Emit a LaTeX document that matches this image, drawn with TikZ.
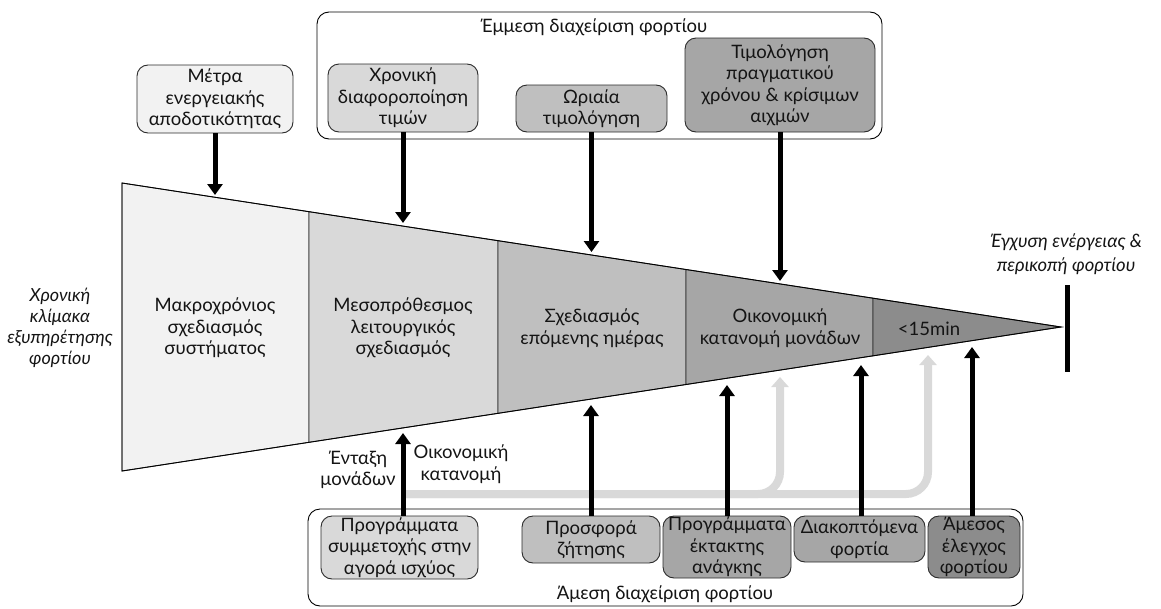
\documentclass[tikz,border=0pt]{standalone}
\usepackage{fontspec}
\setmainfont{Lato}
\usetikzlibrary{arrows.meta}

\definecolor{shadeA}{HTML}{F2F2F2}
\definecolor{shadeB}{HTML}{D9D9D9}
\definecolor{shadeC}{HTML}{BFBFBF}
\definecolor{shadeD}{HTML}{A6A6A6}
\definecolor{shadeE}{HTML}{8C8C8C}
\definecolor{flowgrey}{HTML}{D9D9D9}
\definecolor{txt}{HTML}{141414}
\definecolor{edge}{HTML}{2B2B2B}

\begin{document}
\begin{tikzpicture}[x=1pt,y=-1pt,
  lbl/.style={font=\fontsize{18.5}{21.5}\selectfont, align=center, text=txt, inner sep=0pt},
  note/.style={lbl, font=\fontsize{18}{21}\selectfont\itshape},
  box/.style={lbl, draw=edge, line width=0.9pt, rounded corners=11pt},
  frame/.style={draw=black, line width=0.9pt, rounded corners=12pt},
  segment/.style={draw=edge, line width=0.8pt},
  push/.style={line width=5pt, -{Triangle[width=15pt,length=11pt]}},
  flow/.style={draw=flowgrey, line width=8pt, rounded corners=22pt, -{Triangle[width=17pt,length=10pt]}},
]
\useasboundingbox (0,0) rectangle (1161,608);

% ---------- time-scale cone ----------
\filldraw[segment, fill=shadeA] (122,183) -- (309,211.7) -- (309,442.3) -- (122,471) -- cycle;
\filldraw[segment, fill=shadeB] (309,211.7) -- (498,240.7) -- (498,413.3) -- (309,442.3) -- cycle;
\filldraw[segment, fill=shadeC] (498,240.7) -- (686,269.5) -- (686,384.5) -- (498,413.3) -- cycle;
\filldraw[segment, fill=shadeD] (686,269.5) -- (873,298.2) -- (873,355.8) -- (686,384.5) -- cycle;
\filldraw[segment, fill=shadeE] (873,298.2) -- (1061,327) -- (873,355.8) -- cycle;
\draw[line width=0.9pt] (122,183) -- (1061,327) -- (122,471) -- cycle;

\node[lbl] (longterm) at (215,328) {Μακροχρόνιος\\σχεδιασμός\\συστήματος};
\node[lbl] (midterm)  at (403,328) {Μεσοπρόθεσμος\\λειτουργικός\\σχεδιασμός};
\node[lbl] (dayahead) at (592,328) {Σχεδιασμός\\επόμενης ημέρας};
\node[lbl] (dispatchseg) at (780,328) {Οικονομική\\κατανομή μονάδων};
\node[lbl] (realtime) at (929,329) {<15min};

% end marker at the apex
\coordinate (barTop) at (1067,285);
\coordinate (barBot) at (1067,372);
\draw[line width=5pt] (barTop) -- (barBot);

\node[note] (leftnote) at (60,328) {Χρονική\\κλίμακα\\εξυπηρέτησης\\φορτίου};
\node[note, font=\fontsize{18.5}{24}\selectfont\itshape] (rightnote) at (1066,254) {Έγχυση ενέργειας \&\\περικοπή φορτίου};

% ---------- indirect load management ----------
\draw[frame] (317,12) rectangle (882,139);
\node[lbl] (indirect) at (594,27) {Έμμεση διαχείριση φορτίου};

\node[box, fill=shadeA, minimum width=156pt, minimum height=68pt] (efficiency) at (215,99) {Μέτρα\\ενεργειακής\\αποδοτικότητας};
\node[box, fill=shadeB, minimum width=150pt, minimum height=68pt] (tou) at (403,98) {Χρονική\\διαφοροποίηση\\τιμών};
\node[box, fill=shadeC, minimum width=151pt, minimum height=47pt] (hourly) at (591.5,108.5) {Ωριαία\\τιμολόγηση};
\node[box, fill=shadeD, minimum width=190pt, minimum height=94pt] (rtp) at (780,85) {Τιμολόγηση\\πραγματικού\\χρόνου \& κρίσιμων\\αιχμών};

\coordinate (effTip) at (215,195);
\coordinate (touTip) at (403,223);
\coordinate (hourTip) at (591.5,252);
\coordinate (rtpTip) at (780,281);
\draw[push] (efficiency) -- (effTip);
\draw[push] (tou) -- (touTip);
\draw[push] (hourly) -- (hourTip);
\draw[push] (rtp) -- (rtpTip);

% ---------- direct load management ----------
\draw[frame] (308,509) rectangle (1023,606);
\node[lbl] (direct) at (665,594) {Άμεση διαχείριση φορτίου};

\node[box, fill=shadeB, minimum width=157pt, minimum height=63pt] (market) at (399.5,547.5) {Προγράμματα\\συμμετοχής στην\\αγορά ισχύος};
\node[box, fill=shadeC, minimum width=138pt, minimum height=47pt] (bidding) at (591,539.5) {Προσφορά\\ζήτησης};
\node[box, fill=shadeD, minimum width=128pt, minimum height=62pt] (emergency) at (727,547) {Προγράμματα\\έκτακτης\\ανάγκης};
\node[box, fill=shadeD, minimum width=131pt, minimum height=46pt] (interrupt) at (859.5,539) {Διακοπτόμενα\\φορτία};
\node[box, fill=shadeE, minimum width=92pt, minimum height=62pt] (dlc) at (974,547) {Άμεσος\\έλεγχος\\φορτίου};

% grey routes of the unit commitment signal
\coordinate (routeStart) at (405,494);
\coordinate (routeA) at (780,377);
\coordinate (routeB) at (928,355);
\draw[flow] (routeStart) -| (routeB);
\draw[flow] (routeStart) -| (routeA);

\coordinate (marketTip) at (403,433);
\coordinate (biddingTip) at (591,405);
\coordinate (emergencyTip) at (727,385);
\coordinate (interruptTip) at (861,365);
\coordinate (dlcTip) at (972,347);
\draw[push] (market.north -| marketTip) -- (marketTip);
\draw[push] (bidding.north -| biddingTip) -- (biddingTip);
\draw[push] (emergency.north -| emergencyTip) -- (emergencyTip);
\draw[push] (interrupt.north -| interruptTip) -- (interruptTip);
\draw[push] (dlc.north -| dlcTip) -- (dlcTip);

\node[lbl] (commit) at (358,470) {Ένταξη\\μονάδων};
\node[lbl] (econ) at (461,464) {Οικονομική\\κατανομή};

\end{tikzpicture}
\end{document}
